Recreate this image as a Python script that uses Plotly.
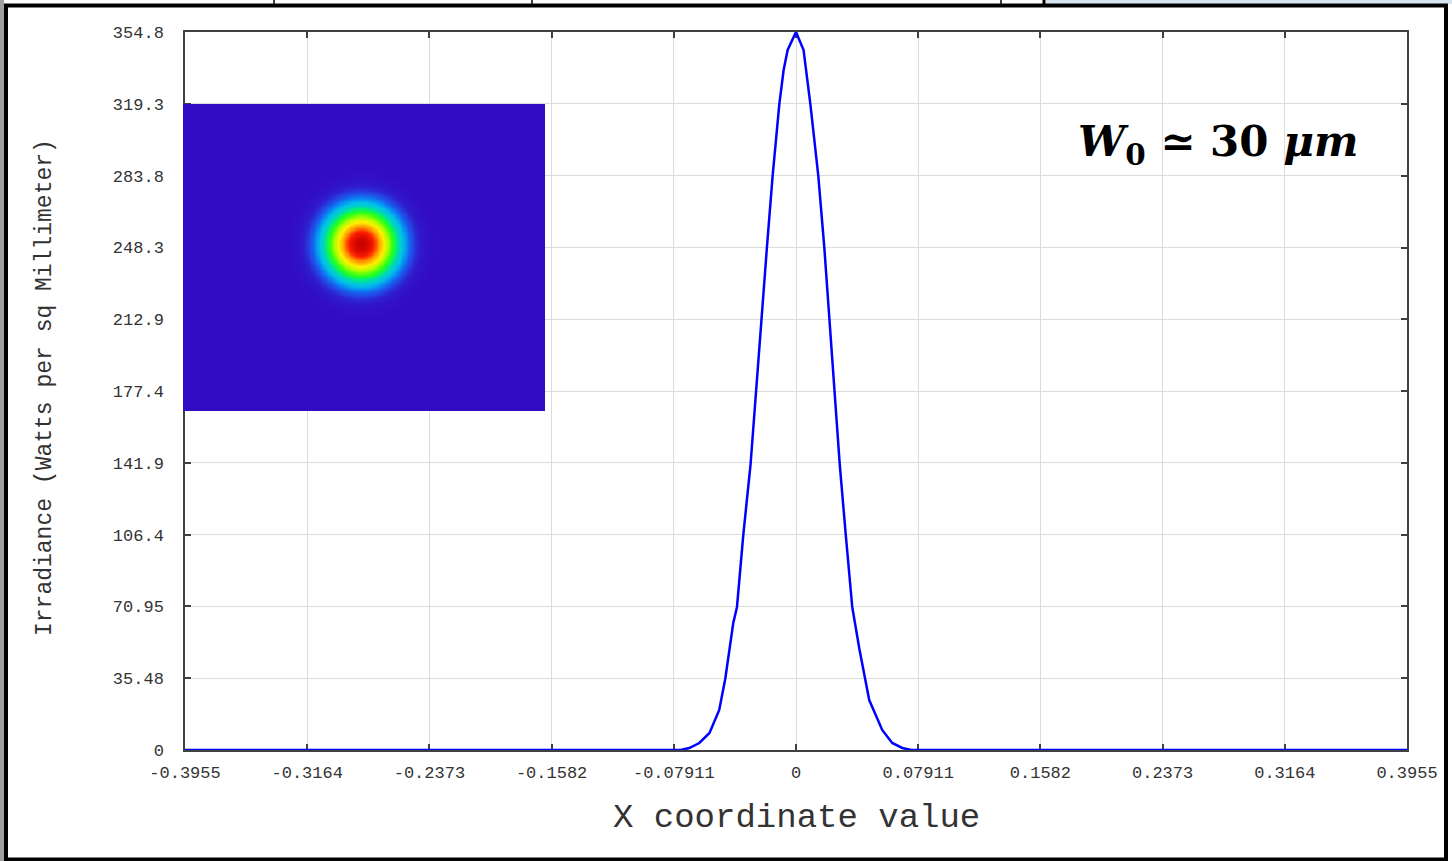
import numpy as np
import plotly.graph_objects as go

# ---------------- data ----------------
x_vals = [-0.3955, -0.2, -0.0746, -0.0691, -0.0626, -0.0560, -0.0497, -0.0458,
          -0.0406, -0.0382, -0.0341, -0.0294, -0.0259, -0.0225, -0.0188, -0.0151,
          -0.0108, -0.0080, -0.0054, 0.0, 0.0049, 0.0093, 0.0144, 0.0183, 0.0217,
          0.0248, 0.0283, 0.0322, 0.0364, 0.0410, 0.0448, 0.0474, 0.0558, 0.0623,
          0.0688, 0.0746, 0.2, 0.3955]
irradiance = [0, 0, 0, 0.99, 3.46, 8.40, 19.8, 35.1,
              62.8, 70.7, 106.4, 141.3, 177.9, 212.8, 248.6, 284.0,
              319.2, 336.0, 345.9, 354.8, 345.9, 319.2, 284.0, 248.6, 212.8,
              177.9, 141.3, 106.4, 70.7, 50.0, 34.6, 24.7, 9.9, 3.5,
              1.0, 0, 0, 0]

x_ticks = [-0.3955, -0.3164, -0.2373, -0.1582, -0.07911, 0, 0.07911, 0.1582, 0.2373, 0.3164, 0.3955]
x_ticktext = ["-0.3955", "-0.3164", "-0.2373", "-0.1582", "-0.07911", "0", "0.07911",
              "0.1582", "0.2373", "0.3164", "0.3955"]
y_ticks = [0, 35.48, 70.95, 106.4, 141.9, 177.4, 212.9, 248.3, 283.8, 319.3, 354.8]
y_ticktext = ["0", "35.48", "70.95", "106.4", "141.9", "177.4", "212.9", "248.3", "283.8", "319.3", "354.8"]

x_title = "X coordinate value"
y_title = "Irradiance (Watts per sq Millimeter)"
label = "<b><i>W</i><sub>0</sub> \u2243 30 <i>\u03bcm</i></b>"

# ---------------- layout geometry (pixels -> paper, margins are zero) ----------------
W, H = 1452, 861
L, R, T, B = 185, 1407, 32, 750


def fx(xp):
    return xp / W


def fy(yp):
    return 1 - yp / H


# inset beam image built from the radial profile read above
prof_r = np.abs(np.array(x_vals[2:20]))[::-1]
prof_v = np.array(irradiance[2:20])[::-1]
ix_rng = [-0.178, 0.184]
iy_rng = [-0.167, 0.140]
gx = np.linspace(ix_rng[0], ix_rng[1], 300)
gy = np.linspace(iy_rng[0], iy_rng[1], 260)
XX, YY = np.meshgrid(gx, gy)
RR = np.sqrt(XX ** 2 + YY ** 2)
ZZ = np.interp(RR, prof_r, prof_v, right=0)

colorscale = [[0, '#320CC4'], [0.015, '#3018CA'], [0.045, '#2248E4'], [0.09, '#0A80F4'],
              [0.16, '#00C0E8'], [0.25, '#00E890'], [0.34, '#20FF20'], [0.46, '#A0FF00'],
              [0.6, '#FFF000'], [0.75, '#FF9000'], [0.86, '#FF2000'], [1, '#C80000']]

fig = go.Figure()
fig.add_trace(go.Scatter(x=x_vals, y=irradiance, mode='lines', cliponaxis=False,
                         line=dict(color='#0000FF', width=2.5), showlegend=False,
                         hoverinfo='skip'))
fig.add_trace(go.Heatmap(x=gx, y=gy, z=ZZ, xaxis='x2', yaxis='y2', colorscale=colorscale,
                         zmin=0, zmax=354.8, showscale=False, zsmooth='best',
                         hoverinfo='skip'))

tickfont = dict(family='Liberation Mono', size=17, color='#333333')
fig.update_layout(
    width=W, height=H, autosize=False,
    margin=dict(l=0, r=0, t=0, b=0, pad=0),
    paper_bgcolor='white', plot_bgcolor='white',
    xaxis=dict(domain=[fx(L), fx(R)], range=[-0.3955, 0.3955], tickvals=x_ticks, ticktext=x_ticktext,
               showgrid=True, gridcolor='#DCDCDC', gridwidth=1, zeroline=False,
               showline=True, linecolor='#404040', linewidth=1.5, mirror='ticks',
               ticks='inside', ticklen=6, tickcolor='#404040', tickwidth=1.5,
               tickfont=tickfont, ticklabelstandoff=6, automargin=False, layer='below traces'),
    yaxis=dict(domain=[fy(B), fy(T)], range=[0, 354.8], tickvals=y_ticks, ticktext=y_ticktext,
               showgrid=True, gridcolor='#DCDCDC', gridwidth=1, zeroline=False,
               showline=True, linecolor='#404040', linewidth=1.5, mirror='ticks',
               ticks='inside', ticklen=6, tickcolor='#404040', tickwidth=1.5,
               tickfont=tickfont, ticklabelstandoff=16, automargin=False, layer='below traces'),
    xaxis2=dict(domain=[fx(183), fx(545)], range=ix_rng, visible=False, anchor='y2'),
    yaxis2=dict(domain=[fy(411), fy(104)], range=iy_rng, visible=False, anchor='x2'),
)

fig.add_annotation(text=x_title, xref='paper', yref='paper', x=fx(796), y=fy(818),
                   showarrow=False, font=dict(family='Liberation Mono', size=34, color='#333333'),
                   xanchor='center', yanchor='middle')
fig.add_annotation(text=y_title, xref='paper', yref='paper', x=fx(45), y=fy(388),
                   showarrow=False, textangle=-90,
                   font=dict(family='Liberation Mono', size=23, color='#333333'),
                   xanchor='center', yanchor='middle')
fig.add_annotation(text=label, xref='paper', yref='paper', x=fx(1218), y=fy(145),
                   showarrow=False, font=dict(family='DejaVu Serif', size=42, color='black'),
                   xanchor='center', yanchor='middle')

# window frame decorations
shapes = [
    dict(type='rect', xref='paper', yref='paper', x0=0, x1=fx(4), y0=0, y1=1,
         fillcolor='#A0A0A0', line=dict(width=0), layer='below'),
    dict(type='rect', xref='paper', yref='paper', x0=fx(1046), x1=1, y0=fy(4), y1=1,
         fillcolor='#D6E6F0', line=dict(width=0), layer='below'),
    dict(type='line', xref='paper', yref='paper', x0=fx(274), x1=fx(274), y0=fy(5), y1=1,
         line=dict(color='black', width=1.5)),
    dict(type='line', xref='paper', yref='paper', x0=fx(532), x1=fx(532), y0=fy(5), y1=1,
         line=dict(color='black', width=1.5)),
    dict(type='line', xref='paper', yref='paper', x0=fx(1001), x1=fx(1001), y0=fy(5), y1=1,
         line=dict(color='black', width=1.5)),
    dict(type='line', xref='paper', yref='paper', x0=fx(1044), x1=fx(1044), y0=fy(5), y1=1,
         line=dict(color='black', width=3)),
    dict(type='rect', xref='paper', yref='paper', x0=fx(6), x1=fx(1446), y0=fy(859.5), y1=fy(5.5),
         fillcolor='rgba(0,0,0,0)', line=dict(color='black', width=4)),
]
fig.update_layout(shapes=shapes)

fig.write_html("out.html", config={'displayModeBar': False},
               post_script="document.body.style.margin='0px';")
